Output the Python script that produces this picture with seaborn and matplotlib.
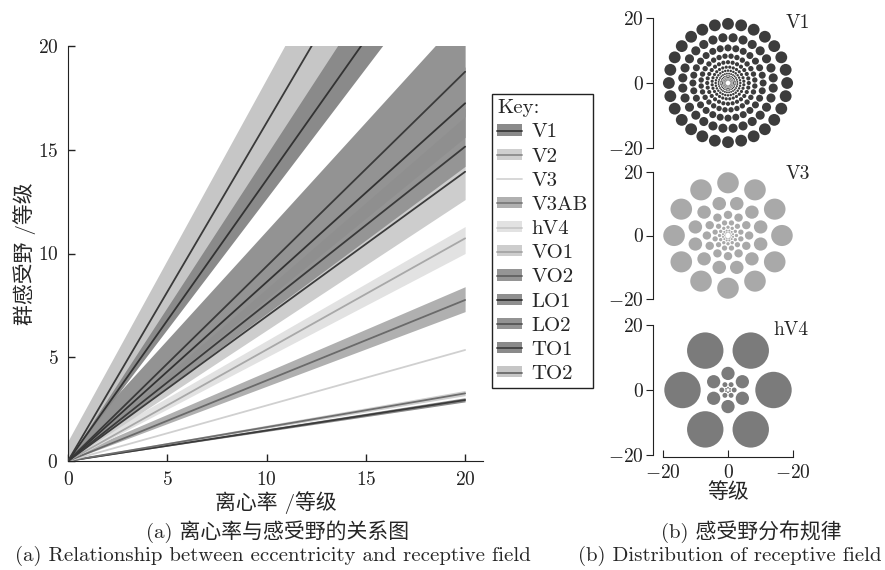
import numpy as np
import pandas as pd
import matplotlib
matplotlib.use("Agg")
import matplotlib.pyplot as plt
import seaborn as sns
from matplotlib.patches import Circle, Patch
from matplotlib.lines import Line2D
from matplotlib.collections import PatchCollection

# visual areas, pRF size (deg) at eccentricity 0 and 20
areas = ["V1", "V2", "V3", "V3AB", "hV4", "VO1", "VO2", "LO1", "LO2", "TO1", "TO2"]
size_at0 = [0.0, 0.0, 0.0, 0.0, 0.0, 0.0, 0.0, 0.0, 0.0, 0.0, 0.0]
size_at20 = [2.94, 3.26, 5.35, 7.76, 10.73, 13.94, 15.15, 17.24, 18.76, 27.1, 32.6]
band_lo0 = [0.0, 0.0, np.nan, 0.0, 0.0, 0.0, 0.0, 0.0, 0.0, 0.0, 0.0]
band_hi0 = [0.05, 0.05, np.nan, 0.2, 0.3, 0.9, 0.5, 0.5, 0.6, 0.5, 0.9]
band_lo20 = [2.85, 3.15, np.nan, 7.2, 10.0, 12.6, 14.2, 15.6, 16.6, 25.2, 29.4]
band_hi20 = [3.05, 3.40, np.nan, 8.4, 11.3, 15.2, 17.0, 19.0, 21.6, 30.0, 35.8]
line_colors = ["#3a3a3a", "#6e6e6e", "#d0d0d0", "#6a6a6a", "#a8a8a8", "#3c3c3c",
               "#3a3a3a", "#333333", "#3a3a3a", "#333333", "#3a3a3a"]
band_colors = ["#8a8a8a", "#cfcfcf", None, "#b0b0b0", "#e2e2e2", "#cdcdcd",
               "#959595", "#8f8f8f", "#939393", "#8a8a8a", "#c6c6c6"]
legend_line_colors = ["#3a3a3a", "#8c8c8c", "#d4d4d4", "#7a7a7a", "#c8c8c8", "#a5a5a5",
                      "#626262", "#333333", "#555555", "#404040", "#6a6a6a"]

# right panels: ring eccentricities, circles per ring, radius / eccentricity
panel_names = ["V1", "V3", "hV4"]
ring_ecc_v1 = [18.2, 14.0, 10.8, 8.3, 6.4, 4.9, 3.8, 2.9, 2.2, 1.7, 1.3, 1.0, 0.8]
ring_ecc_v3 = [16.6, 10.4, 6.5, 4.1, 2.6, 1.6, 1.0]
ring_ecc_hv4 = [14.0, 5.1, 1.9, 0.7]
ring_counts = [28, 12, 6]
size_ratio = [0.1, 0.2, 0.4]
panel_colors = ["#3c3c3c", "#a9a9a9", "#7b7b7b"]

sns.set_style("ticks")
plt.rcParams["font.family"] = ["cmr10", "Noto Sans CJK SC", "DejaVu Sans"]
plt.rcParams["mathtext.fontset"] = "cm"
plt.rcParams["axes.formatter.use_mathtext"] = True
plt.rcParams["axes.edgecolor"] = "#222222"
plt.rcParams["xtick.color"] = "#222222"
plt.rcParams["ytick.color"] = "#222222"

fig = plt.figure(figsize=(8.85, 5.7), dpi=100)

# ---- (a) eccentricity vs pRF size
ax = fig.add_axes([68 / 885, 109 / 570, 415 / 885, 415 / 570])
ecc = [0.0, 20.0]
for i, a in enumerate(areas):
    if band_colors[i] is None:
        continue
    ax.fill_between(ecc, [band_lo0[i], band_lo20[i]], [band_hi0[i], band_hi20[i]],
                    color=band_colors[i], lw=0, zorder=1)

df = pd.DataFrame({
    "area": np.repeat(areas, 2),
    "ecc": ecc * len(areas),
    "size": [v for pair in zip(size_at0, size_at20) for v in pair],
})
sns.lineplot(data=df, x="ecc", y="size", hue="area", palette=dict(zip(areas, line_colors)),
             legend=False, lw=1.3, ax=ax, zorder=3)

ax.set_xlim(0, 20.9)
ax.set_ylim(0, 20)
ax.set_xticks([0, 5, 10, 15, 20])
ax.set_yticks([0, 5, 10, 15, 20])
sns.despine(ax=ax)
ax.tick_params(direction="in", length=5, width=1, labelsize=14, pad=7)
ax.set_xlabel("离心率 /等级", fontsize=15, labelpad=2)
ax.set_ylabel("群感受野 /等级", fontsize=15, labelpad=1)

handles = []
for i, a in enumerate(areas):
    ln = Line2D([], [], color=legend_line_colors[i], lw=1.3)
    if band_colors[i] is None:
        handles.append(ln)
    else:
        handles.append((Patch(facecolor=band_colors[i], edgecolor="none"), ln))
leg = fig.legend(handles, areas, title="Key:", alignment="left", loc="upper left",
                 bbox_to_anchor=(492 / 885, 1 - 94 / 570), fontsize=15, title_fontsize=15,
                 frameon=True, fancybox=False, edgecolor="#222222", framealpha=1,
                 handlelength=1.2, handleheight=0.45, handletextpad=0.45,
                 labelspacing=0.3, borderpad=0.25, borderaxespad=0)
leg.get_frame().set_linewidth(1.0)

# ---- (b) receptive field layout
panel_rings = [ring_ecc_v1, ring_ecc_v3, ring_ecc_hv4]
panel_tops = [18, 172, 325]
panel_heights = [130, 127, 130]
label_pos = [(21.5, 18.5), (21.5, 19.3), (19.4, 18.5)]
for p, name in enumerate(panel_names):
    axr = fig.add_axes([663 / 885, 1 - (panel_tops[p] + panel_heights[p]) / 570,
                        130 / 885, panel_heights[p] / 570])
    n = ring_counts[p]
    circles = []
    for k, e in enumerate(panel_rings[p]):
        ang = np.arange(n) * 2 * np.pi / n + (k % 2) * np.pi / n
        for t in ang:
            circles.append(Circle((e * np.cos(t), e * np.sin(t)), size_ratio[p] * e))
    axr.add_collection(PatchCollection(circles, facecolor=panel_colors[p],
                                       edgecolor="none", clip_on=False))
    axr.set_xlim(-20, 20)
    axr.set_ylim(-20, 20)
    axr.set_yticks([-20, 0, 20])
    axr.set_yticklabels([r"$-20$", r"$0$", r"$20$"])
    axr.tick_params(axis="y", direction="out", length=5, labelsize=14, pad=2)
    axr.text(label_pos[p][0], label_pos[p][1], name, fontsize=14, ha="center",
             va="center", clip_on=False)
    if p < 2:
        axr.set_xticks([])
        sns.despine(ax=axr, bottom=True, offset=dict(left=7), trim=True)
    else:
        axr.set_xticks([-20, 0, 20])
        axr.set_xticklabels([r"$-20$", r"$0$", r"$-20$"])
        axr.tick_params(axis="x", direction="in", length=5, labelsize=14, pad=5)
        axr.set_xlabel("等级", fontsize=15, labelpad=0)
        sns.despine(ax=axr, offset=dict(left=7, bottom=1.5), trim=True)

fig.text(278 / 885, 1 - 532 / 570, "(a) 离心率与感受野的关系图", ha="center", va="center", fontsize=15)
fig.text(273 / 885, 1 - 556 / 570, "(a) Relationship between eccentricity and receptive field",
         ha="center", va="center", fontsize=15)
fig.text(751 / 885, 1 - 532 / 570, "(b) 感受野分布规律", ha="center", va="center", fontsize=15)
fig.text(730 / 885, 1 - 556 / 570, "(b) Distribution of receptive field",
         ha="center", va="center", fontsize=15)

fig.savefig("out.png", dpi=100)
